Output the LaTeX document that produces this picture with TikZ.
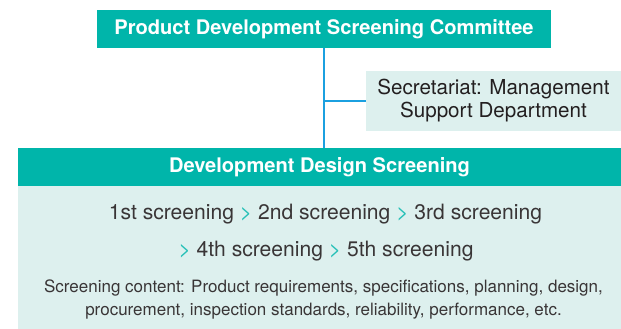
\documentclass[tikz,border=0pt]{standalone}
\usepackage{fontspec}
\setmainfont{TeX Gyre Heros}
\usetikzlibrary{positioning}
\definecolor{screenTeal}{RGB}{0,181,170}
\definecolor{paleTeal}{RGB}{221,240,238}
\definecolor{linkBlue}{RGB}{27,160,224}
\definecolor{inkGrey}{RGB}{35,31,32}
\newcommand{\gtstep}{\textcolor{screenTeal!85}{>}}
\tikzset{%
  % Specifications for style of nodes:
        base/.style = {rectangle, inner sep=0pt, text centered},
     tealBar/.style = {base, fill=screenTeal, text=white,
                       font=\fontsize{20.1}{23}\selectfont\bfseries},
     paleBox/.style = {base, fill=paleTeal, text=inkGrey},
   stageText/.style = {base, anchor=base, text=inkGrey!90,
                       font=\fontsize{21.1}{24}\selectfont},
 contentText/.style = {base, anchor=base, text=inkGrey!90,
                       font=\fontsize{17}{19}\selectfont},
        link/.style = {draw=linkBlue, line width=1.6pt},
}
\begin{document}
\begin{tikzpicture}[x=1pt, y=-1pt, node distance=0pt]
  \useasboundingbox (0,0) rectangle (621,329);
  % Specification of nodes (position, etc.)
  \node (committee)   [tealBar, minimum width=454pt, minimum height=38pt] at (324,29)
        {Product Development Screening Committee};
  \node (secretariat) [paleBox, minimum width=255pt, minimum height=60pt, align=center,
        font=\fontsize{20.6}{23}\selectfont] at (493.5,101)
        {Secretariat: Management\\ Support Department};
  \node (design)      [tealBar, minimum width=603pt, minimum height=38pt] at (319.5,167)
        {Development Design Screening};
  \node (body)        [paleBox, minimum width=603pt, minimum height=143pt, below=of design] {};

  \node (stagesA)   [stageText]   at (325.5,219) {1st screening \gtstep{} 2nd screening \gtstep{} 3rd screening};
  \node (stagesB)   [stageText]   at (326,256)   {\gtstep{} 4th screening \gtstep{} 5th screening};
  \node (contentA)  [contentText] at (323.5,292) {Screening content: Product requirements, specifications, planning, design,};
  \node (contentB)  [contentText] at (323.5,315) {procurement, inspection standards, reliability, performance, etc.};

  % Specification of lines between nodes specified above
  \coordinate (joint) at (committee.south |- secretariat.west);
  \draw[link] (committee.south) -- (committee.south |- design.north);
  \draw[link] (joint) -- (secretariat.west);
\end{tikzpicture}
\end{document}
